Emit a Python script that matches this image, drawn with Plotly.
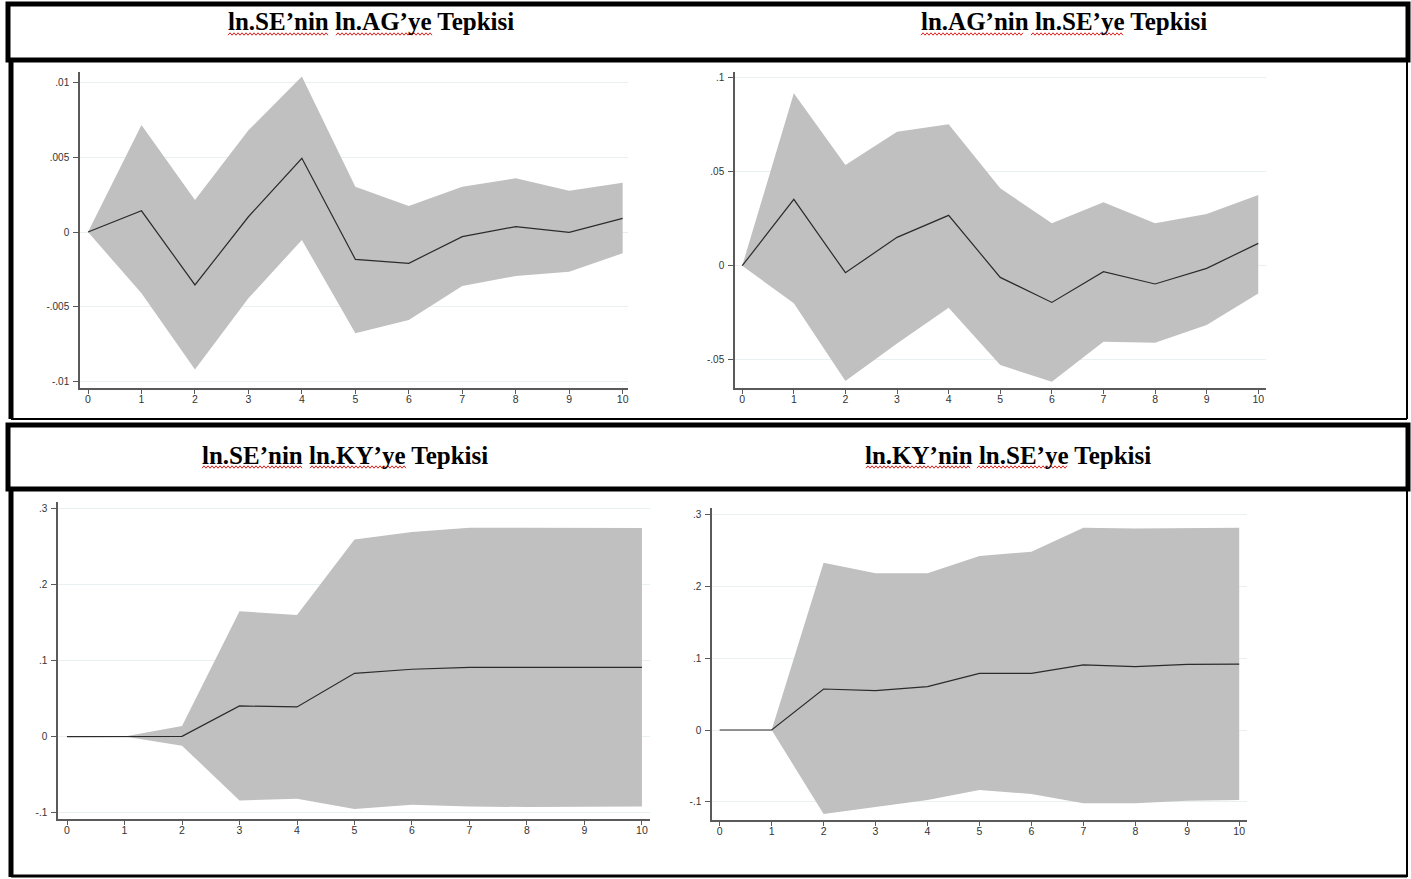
import plotly.graph_objects as go

# ---------------- data ----------------
steps = [0, 1, 2, 3, 4, 5, 6, 7, 8, 9, 10]

titles = ["ln.SE’nin ln.AG’ye Tepkisi", "ln.AG’nin ln.SE’ye Tepkisi",
          "ln.SE’nin ln.KY’ye Tepkisi", "ln.KY’nin ln.SE’ye Tepkisi"]

irf_se_ag = [0, 0.00142, -0.00354, 0.00102, 0.00493, -0.00183, -0.00209, -0.00031, 0.00036, -0.00002, 0.00091]
lo_se_ag = [0, -0.0041, -0.0092, -0.00443, -0.00053, -0.00677, -0.00588, -0.00361, -0.00294, -0.00265, -0.00142]
hi_se_ag = [0, 0.00715, 0.00214, 0.0068, 0.0104, 0.00303, 0.00174, 0.00303, 0.00359, 0.00276, 0.0033]

irf_ag_se = [0, 0.0353, -0.0037, 0.0151, 0.0268, -0.0062, -0.0195, -0.0032, -0.0097, -0.0014, 0.0119]
lo_ag_se = [0, -0.0200, -0.0613, -0.0413, -0.0223, -0.0528, -0.0617, -0.0404, -0.0410, -0.0315, -0.0147]
hi_ag_se = [0, 0.0917, 0.0536, 0.0713, 0.0752, 0.0412, 0.0226, 0.0337, 0.0226, 0.0275, 0.0376]

irf_se_ky = [0, 0, 0.0003, 0.0403, 0.0390, 0.0833, 0.0886, 0.0912, 0.0912, 0.0912, 0.0912]
lo_se_ky = [0, 0, -0.012, -0.084, -0.082, -0.0954, -0.0898, -0.092, -0.0928, -0.0928, -0.092]
hi_se_ky = [0, 0, 0.014, 0.165, 0.160, 0.2594, 0.2694, 0.275, 0.275, 0.275, 0.2746]

irf_ky_se = [0, 0, 0.0572, 0.0549, 0.0605, 0.0790, 0.0790, 0.0907, 0.0883, 0.0916, 0.0920]
lo_ky_se = [0, 0, -0.117, -0.107, -0.0977, -0.0837, -0.0893, -0.1020, -0.1020, -0.0986, -0.0977]
hi_ky_se = [0, 0, 0.2334, 0.2185, 0.2185, 0.2427, 0.2487, 0.2820, 0.2810, 0.2820, 0.2820]

ytick_vals_1 = [-0.01, -0.005, 0, 0.005, 0.01]
ytick_text_1 = ["-.01", "-.005", "0", ".005", ".01"]
ytick_vals_2 = [-0.05, 0, 0.05, 0.1]
ytick_text_2 = ["-.05", "0", ".05", ".1"]
ytick_vals_3 = [-0.1, 0, 0.1, 0.2, 0.3]
ytick_text_3 = ["-.1", "0", ".1", ".2", ".3"]

# ---------------- layout helpers ----------------
W, H = 1411, 879


def px(x):
    return x / W


def py(y):
    return 1 - y / H


BAND = "#c0c0c0"
LINE = "#2b2b2b"
GRID = "#e9f0f1"
AXIS = "#5a5a5a"

panels = [
    dict(irf=irf_se_ag, lo=lo_se_ag, hi=hi_se_ag, tv=ytick_vals_1, tt=ytick_text_1,
         dom=(80, 628, 72, 388), xr=[-0.15, 10.1], yr=[-0.01043, 0.0107]),
    dict(irf=irf_ag_se, lo=lo_ag_se, hi=hi_ag_se, tv=ytick_vals_2, tt=ytick_text_2,
         dom=(735, 1266, 72, 388), xr=[-0.14, 10.15], yr=[-0.065, 0.103]),
    dict(irf=irf_se_ky, lo=lo_se_ky, hi=hi_se_ky, tv=ytick_vals_3, tt=ytick_text_3,
         dom=(58, 650, 502, 819), xr=[-0.157, 10.14], yr=[-0.1085, 0.3088]),
    dict(irf=irf_ky_se, lo=lo_ky_se, hi=hi_ky_se, tv=ytick_vals_3, tt=ytick_text_3,
         dom=(712, 1247, 508, 820), xr=[-0.148, 10.15], yr=[-0.1255, 0.3096]),
]

fig = go.Figure()
layout_axes = {}
for i, p in enumerate(panels, start=1):
    xa = "x" if i == 1 else f"x{i}"
    ya = "y" if i == 1 else f"y{i}"
    fig.add_trace(go.Scatter(x=steps, y=p["lo"], mode="lines", line=dict(width=0, color=BAND),
                             xaxis=xa, yaxis=ya, showlegend=False, hoverinfo="skip"))
    fig.add_trace(go.Scatter(x=steps, y=p["hi"], mode="lines", line=dict(width=0, color=BAND),
                             fill="tonexty", fillcolor=BAND,
                             xaxis=xa, yaxis=ya, showlegend=False, hoverinfo="skip"))
    fig.add_trace(go.Scatter(x=steps, y=p["irf"], mode="lines", line=dict(width=1.2, color=LINE),
                             xaxis=xa, yaxis=ya, showlegend=False))
    xl, xr_, yt, yb = p["dom"]
    xkey = "xaxis" if i == 1 else f"xaxis{i}"
    ykey = "yaxis" if i == 1 else f"yaxis{i}"
    layout_axes[xkey] = dict(
        domain=[px(xl), px(xr_)], anchor=ya, range=p["xr"],
        tickmode="array", tickvals=steps, ticktext=[str(s) for s in steps],
        showline=True, linecolor=AXIS, linewidth=1.5, ticks="outside", ticklen=4,
        tickcolor=AXIS, tickwidth=1, showgrid=False, zeroline=False,
        ticklabelstandoff=-3,
        tickfont=dict(family="Arial, Liberation Sans", size=10.5, color="#333333"),
    )
    layout_axes[ykey] = dict(
        domain=[py(yb), py(yt)], anchor=xa, range=p["yr"],
        tickmode="array", tickvals=p["tv"], ticktext=p["tt"],
        showline=True, linecolor=AXIS, linewidth=1.5, ticks="outside", ticklen=5,
        tickcolor=AXIS, tickwidth=1, showgrid=True, gridcolor=GRID, gridwidth=1,
        zeroline=False, ticklabelstandoff=2,
        tickfont=dict(family="Arial, Liberation Sans", size=10, color="#333333"),
    )

# ---------------- frames (boxes) ----------------
shapes = []


def line(x0, y0, x1, y1, w):
    shapes.append(dict(type="line", xref="paper", yref="paper",
                       x0=px(x0), y0=py(y0), x1=px(x1), y1=py(y1),
                       line=dict(color="black", width=w)))


def rect(x0, y0, x1, y1, w):
    shapes.append(dict(type="rect", xref="paper", yref="paper",
                       x0=px(x0), y0=py(y0), x1=px(x1), y1=py(y1),
                       line=dict(color="black", width=w), fillcolor="rgba(0,0,0,0)"))


rect(8, 4, 1408, 60, 5)
line(11, 60, 11, 419, 5)
line(1407, 60, 1407, 419, 2)
line(11, 419, 1407, 419, 2)
rect(8, 425, 1408, 489, 5)
line(11, 489, 11, 877, 5)
line(1407, 489, 1407, 877, 2)
line(11, 876, 1407, 876, 3)


# red squiggly spell-check underlines
def squiggle(x0, x1, y):
    pts = []
    x = x0
    k = 0
    while x <= x1:
        yy = y + (1.2 if k % 2 == 0 else -1.2)
        pts.append(f"{px(x):.6f},{py(yy):.6f}")
        x += 2
        k += 1
    path = "M " + " L ".join(pts)
    shapes.append(dict(type="path", xref="paper", yref="paper", path=path,
                       line=dict(color="#e0201b", width=1)))


squiggle(228, 329, 34)
squiggle(336, 433, 34)
squiggle(921, 1023, 34)
squiggle(1031, 1124, 34)
squiggle(202, 302, 467)
squiggle(310, 406, 467)
squiggle(866, 971, 467)
squiggle(977, 1068, 467)

annotations = []
title_pos = [(371, 22), (1064, 22), (345, 456), (1008, 456)]
for t, (cx, cy) in zip(titles, title_pos):
    annotations.append(dict(text=f"<b>{t}</b>", xref="paper", yref="paper",
                            x=px(cx), y=py(cy), xanchor="center", yanchor="middle",
                            showarrow=False,
                            font=dict(family="Liberation Serif, Times New Roman", size=25, color="black")))

fig.update_layout(
    width=W, height=H, margin=dict(l=0, r=0, t=0, b=0),
    paper_bgcolor="white", plot_bgcolor="white",
    shapes=shapes, annotations=annotations, showlegend=False,
    **layout_axes,
)

fig.write_html("out.html", config={"displayModeBar": False},
               post_script="document.body.style.margin='0';document.body.style.overflow='hidden';")
